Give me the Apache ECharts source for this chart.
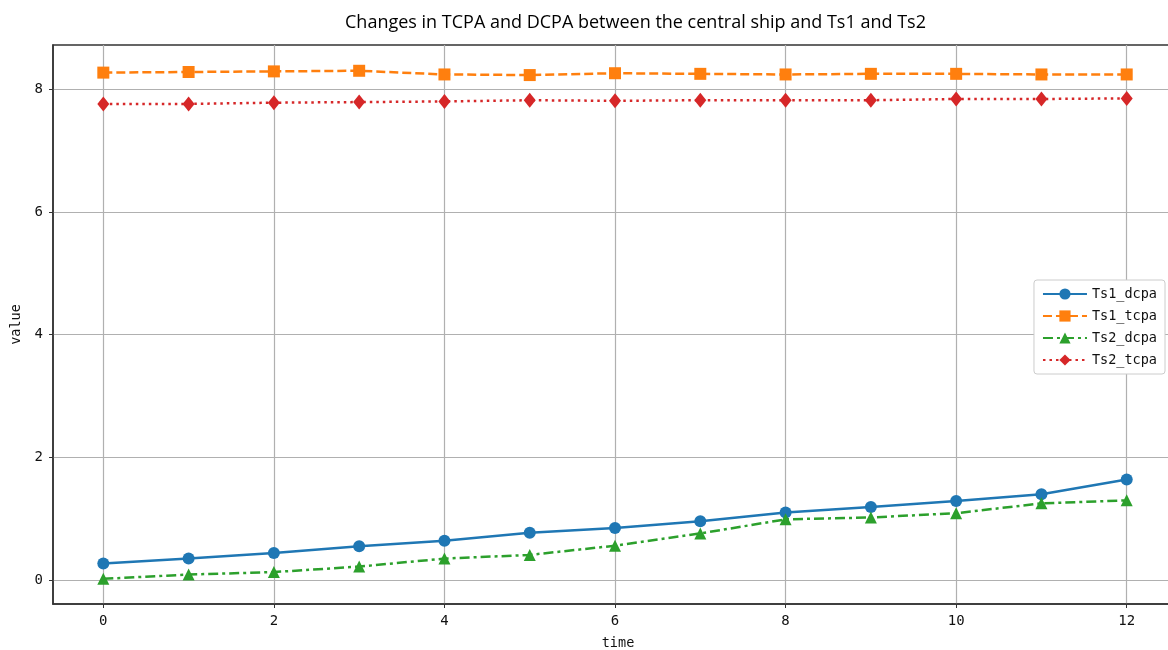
<!DOCTYPE html>
<html>
<head>
<meta charset="utf-8">
<script src="https://cdn.jsdelivr.net/npm/echarts@6/dist/echarts.min.js"></script>
<style>html,body{margin:0;padding:0;background:#fff}#c{width:1168px;height:650px}</style>
</head>
<body>
<div id="c"></div>
<script>
const times = [0,1,2,3,4,5,6,7,8,9,10,11,12];
const ts1Dcpa = [0.27,0.35,0.44,0.55,0.64,0.77,0.85,0.96,1.10,1.19,1.29,1.40,1.64];
const ts1Tcpa = [8.27,8.28,8.29,8.30,8.24,8.23,8.26,8.25,8.24,8.25,8.25,8.24,8.24];
const ts2Dcpa = [0.02,0.09,0.13,0.22,0.35,0.41,0.56,0.76,0.99,1.02,1.09,1.25,1.30];
const ts2Tcpa = [7.76,7.76,7.78,7.79,7.80,7.82,7.81,7.82,7.82,7.82,7.84,7.84,7.85];
const xTicks = [0,2,4,6,8,10,12];
const yTicks = [0,2,4,6,8];
const seriesNames = ['Ts1_dcpa','Ts1_tcpa','Ts2_dcpa','Ts2_tcpa'];

const pair = arr => arr.map((v,i)=>[times[i], v]);
const mono = 'DejaVu Sans Mono';
const chart = echarts.init(document.getElementById('c'), null, {renderer:'canvas'});
chart.setOption({
  animation:false,
  backgroundColor:'#fff',
  title:{text:'Changes in TCPA and DCPA between the central ship and Ts1 and Ts2', left:340, top:9,
    textStyle:{fontFamily:'Open Sans', fontSize:18, fontWeight:'normal', color:'#000'}},
  grid:{left:53, top:45, width:1130, height:559, outerBoundsMode:'none', containLabel:false,
    show:true, borderColor:'#333', borderWidth:1.5, backgroundColor:'transparent'},
  legend:{
    data:seriesNames, orient:'vertical', right:3, top:280,
    itemWidth:44, itemHeight:14, itemGap:8,
    padding:[7,8,7,8], borderColor:'#ccc', borderWidth:1, borderRadius:3, backgroundColor:'#fff',
    textStyle:{fontFamily:mono, fontSize:13.5, color:'#111'}
  },
  xAxis:{type:'value', min:-0.59, max:12.66, name:'time', nameLocation:'middle', nameGap:32,
    nameTextStyle:{fontFamily:mono, fontSize:13.5, color:'#111'},
    axisLine:{show:true, onZero:false, lineStyle:{color:'#333', width:1.5}},
    axisTick:{show:true, length:4, customValues:xTicks, lineStyle:{color:'#333'}},
    axisLabel:{customValues:xTicks, fontFamily:mono, fontSize:14, color:'#111', margin:10},
    splitLine:{show:true, lineStyle:{color:'#b0b0b0', width:1.2}}},
  yAxis:{type:'value', min:-0.39, max:8.72, name:'value', nameLocation:'middle', nameGap:28, nameRotate:90,
    nameTextStyle:{fontFamily:mono, fontSize:13.5, color:'#111'},
    axisLine:{show:true, onZero:false, lineStyle:{color:'#333', width:1.5}},
    axisTick:{show:true, length:4, customValues:yTicks, lineStyle:{color:'#333'}},
    axisLabel:{customValues:yTicks, fontFamily:mono, fontSize:14, color:'#111', margin:10},
    splitLine:{show:true, lineStyle:{color:'#b0b0b0', width:1.2}}},
  series:[
    {name:seriesNames[0], type:'line', data:pair(ts1Dcpa), symbol:'circle', symbolSize:12,
      itemStyle:{color:'#1f77b4'}, lineStyle:{color:'#1f77b4', width:2.5, type:'solid'}},
    {name:seriesNames[1], type:'line', data:pair(ts1Tcpa), symbol:'rect', symbolSize:12,
      itemStyle:{color:'#ff7f0e'}, lineStyle:{color:'#ff7f0e', width:2.5, type:[9,4]}},
    {name:seriesNames[2], type:'line', data:pair(ts2Dcpa), symbol:'triangle', symbolSize:12,
      itemStyle:{color:'#2ca02c'}, lineStyle:{color:'#2ca02c', width:2.5, type:[10,4,3,4]}},
    {name:seriesNames[3], type:'line', data:pair(ts2Tcpa), symbol:'diamond', symbolSize:[12,15],
      itemStyle:{color:'#d62728'}, lineStyle:{color:'#d62728', width:2.5, type:[2.5,4]}}
  ]
});
</script>
</body>
</html>
